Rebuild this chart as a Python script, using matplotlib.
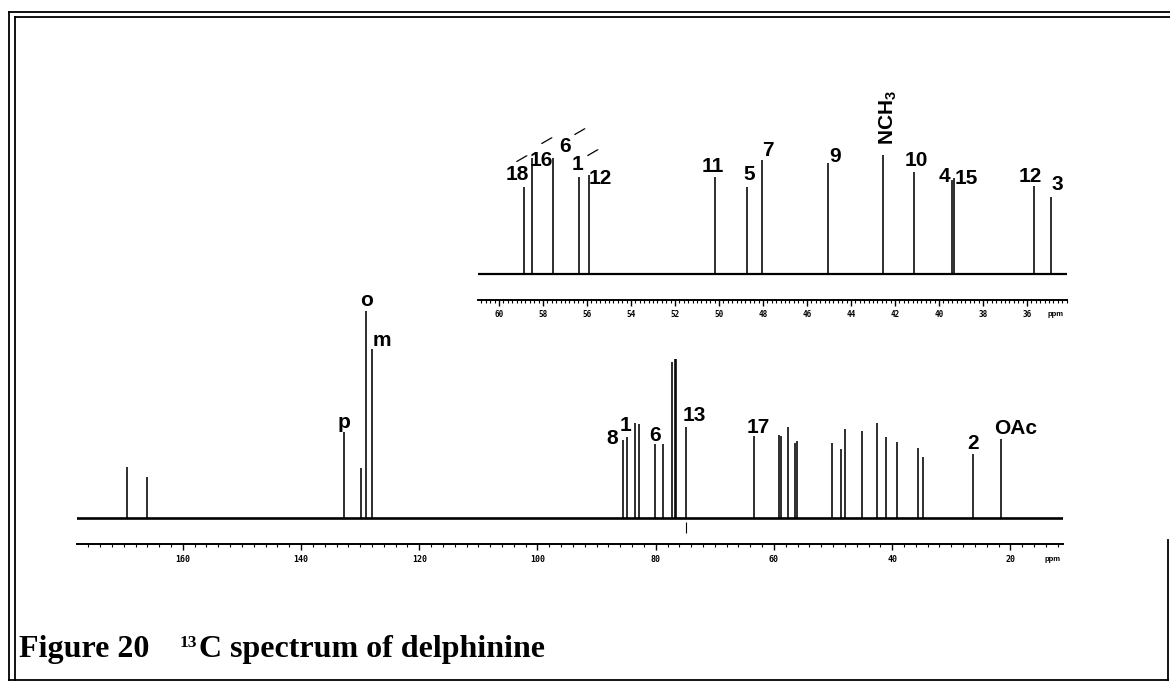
import matplotlib
matplotlib.use("Agg")
import matplotlib.pyplot as plt
from matplotlib.ticker import MultipleLocator, FormatStrFormatter
from matplotlib.lines import Line2D

# peaks (ppm, height above baseline)
main_ppm = [169.5, 166.1, 132.7, 129.9, 129.0, 128.0, 85.5, 84.9, 83.5, 82.8,
            80.2, 78.8, 77.2, 76.8, 76.5, 74.8, 63.4, 59.2, 58.8, 57.7, 56.4,
            56.1, 50.2, 48.7, 48.0, 45.1, 42.5, 41.1, 39.2, 35.6, 34.8, 26.4, 21.6]
main_height = [51, 41, 86, 50, 207, 169, 78, 81, 95, 94,
               74, 74, 156, 159, 159, 91, 82, 83, 82, 91, 75,
               77, 75, 69, 89, 87, 95, 81, 76, 70, 61, 64, 79]
main_labels = ["p", "o", "m", "8", "1", "6", "13", "17", "2", "OAc"]
main_label_ppm = [132.8, 128.9, 126.3, 87.3, 85.1, 80.1, 73.4, 62.7, 26.3, 19.1]
main_label_y = [96, 218, 178, 80, 93, 83, 103, 91, 75, 90]

# expanded region 61-34 ppm
inset_ppm = [58.86, 58.5, 57.56, 56.35, 55.92, 50.18, 48.71, 48.05, 45.03,
             42.56, 41.14, 39.4, 39.3, 35.7, 34.92]
inset_height = [87, 116, 116, 97, 99, 97, 87, 114, 111, 119, 102, 94, 96, 88, 77]
inset_labels = ["18", "16", "6", "1", "12", "11", "5", "7", "9",
                "NCH$_\\mathregular{3}$", "10", "4", "15", "12", "3"]
inset_label_ppm = [59.18, 58.09, 57.0, 56.41, 55.41, 50.27, 48.64, 47.77, 44.73,
                   42.32, 41.05, 39.77, 38.77, 35.86, 34.64]
inset_label_y = [99, 114, 127, 109, 96, 107, 100, 124, 117, 157, 114, 97, 95, 97, 89]
prime_ppm = [58.95, 57.82, 56.32, 55.73]
prime_y = [115, 133, 142, 121]

plt.rcParams["mathtext.fontset"] = "custom"
plt.rcParams["mathtext.rm"] = "Liberation Sans:bold"
plt.rcParams["font.family"] = "Liberation Sans"

W, H = 1170, 683
fig = plt.figure(figsize=(W / 100, H / 100), dpi=100)


def rect(x0, x1, ytop, ybot):
    return [x0 / W, 1 - ybot / H, (x1 - x0) / W, (ybot - ytop) / H]


def style_axis(ax, major, minor, lab_size, pad):
    for s in ["top", "left", "right"]:
        ax.spines[s].set_visible(False)
    ax.spines["bottom"].set_linewidth(1.4)
    ax.set_yticks([])
    ax.xaxis.set_major_locator(MultipleLocator(major))
    ax.xaxis.set_minor_locator(MultipleLocator(minor))
    ax.xaxis.set_major_formatter(FormatStrFormatter("%d"))
    ax.tick_params(axis="x", which="major", length=4, width=1, pad=pad,
                   labelsize=lab_size)
    ax.tick_params(axis="x", which="minor", length=2, width=0.8)
    for t in ax.get_xticklabels():
        t.set_fontfamily("DejaVu Sans Mono")
        t.set_fontweight("bold")
    ax.patch.set_alpha(0)


# main spectrum
ax = fig.add_axes(rect(77, 1063, 290, 544))
ax.set_xlim(177.9, 11.1)
ax.set_ylim(-26, 228)
ax.axhline(0, color="black", lw=1.9)
ax.vlines(main_ppm, 0, main_height, color="black", lw=1.15)
ax.vlines([74.8], -15, -4, color="black", lw=0.8)
for t, x, y in zip(main_labels, main_label_ppm, main_label_y):
    ax.text(x, y, t, fontsize=15, fontweight="bold", ha="center", va="center")
style_axis(ax, 20, 2, 6, 4)
ax.text(0.989, -0.06, "ppm", transform=ax.transAxes, fontsize=5.5,
        fontweight="bold", ha="center", va="center")

# expanded inset
ax2 = fig.add_axes(rect(478, 1067, 80, 300))
ax2.set_xlim(60.95, 34.18)
ax2.set_ylim(-26, 194)
ax2.axhline(0, color="black", lw=1.6)
ax2.vlines(inset_ppm, 0, inset_height, color="black", lw=1.15)
for t, x, y in zip(inset_labels, inset_label_ppm, inset_label_y):
    rot = 90 if "NCH" in t else 0
    ax2.text(x, y, t, fontsize=15, fontweight="bold", ha="center", va="center",
             rotation=rot)
for x, y in zip(prime_ppm, prime_y):
    ax2.text(x, y, "\u2014", fontsize=9, fontweight="bold", ha="center",
             va="center", rotation=30)
style_axis(ax2, 2, 0.2, 5.5, 3)
ax2.text(0.98, -0.065, "ppm", transform=ax2.transAxes, fontsize=5.5,
         fontweight="bold", ha="center", va="center")

# double page frame
frame = [((9, 1170), (12, 12)), ((15, 1170), (17, 17)),
         ((9, 9), (12, 680)), ((15, 15), (17, 680)),
         ((9, 1168), (680, 680)), ((1168, 1168), (540, 680))]
for xs, ys in frame:
    fig.add_artist(Line2D([x / W for x in xs], [1 - y / H for y in ys],
                          color="black", lw=1.3))

# caption
fig.text(19 / W, 1 - 657 / H, "Figure 20", fontsize=23, fontweight="bold",
         family="Liberation Serif", va="baseline")
fig.text(180 / W, 1 - 647 / H, "13", fontsize=12.5, fontweight="bold",
         family="Liberation Serif", va="baseline")
fig.text(199 / W, 1 - 657 / H, "C spectrum of delphinine", fontsize=23,
         fontweight="bold", family="Liberation Serif", va="baseline")

fig.savefig("out.png", dpi=100)
